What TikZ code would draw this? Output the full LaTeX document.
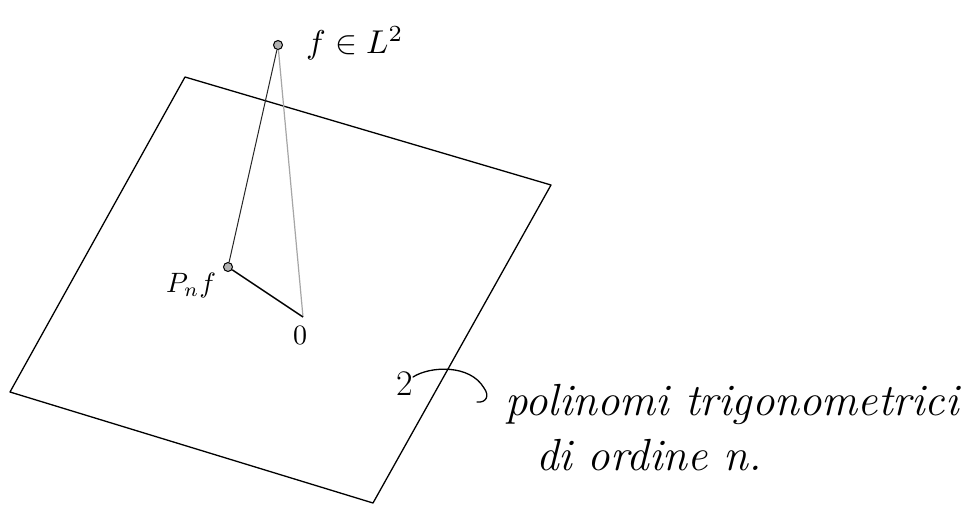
\documentclass[tikz,border=0pt]{standalone}
\begin{document}
\begin{tikzpicture}[x=1pt,y=-1pt,
  edge/.style={draw=black,line width=1.3pt,line join=round},
  ptmark/.style={circle,draw=black,fill=gray!60,line width=1pt,inner sep=0pt,minimum size=9pt},
  leftline/.style={draw=black!85,line width=1pt},
  grayline/.style={draw=gray!70,line width=1.2pt},
  darkline/.style={draw=black,line width=1.5pt},
  lbl/.style={inner sep=0pt,text=black},
  handarc/.style={draw=black,line width=1.3pt,line cap=round}]
\fill[white] (0,0) rectangle (966,504);
\useasboundingbox (0,0) rectangle (966,504);
% plane
\coordinate (TL) at (185,77);
\coordinate (R) at (551,185);
\coordinate (B) at (373,503);
\coordinate (L) at (10,392);
\draw[edge] (TL) -- (R) -- (B) -- (L) -- cycle;
% points
\node[ptmark] (f) at (278,45) {};
\node[ptmark] (pnf) at (228,267) {};
\coordinate (o) at (303,317);
\draw[leftline] (f) -- (pnf);
\draw[grayline] (f) -- (o);
\draw[darkline] (pnf) -- (o);
% labels
\node[lbl,anchor=base west] (flab) at (306,53) {\scalebox{3.3}{$f\in L^2$}};
\node[lbl,anchor=base west] (pnflab) at (166,292) {\scalebox{2.8}{$P_n f$}};
\node[lbl] (zero) at (300,335) {\scalebox{2.8}{$0$}};
\node[lbl] (two) at (405,384) {\fontsize{36}{40}\selectfont 2};
\coordinate (arcA) at (413,377);
\coordinate (arcB) at (484,388);
\coordinate (arcC) at (477,402);
\draw[handarc] (arcA) .. controls (430,366) and (470,364) .. (arcB) .. controls (490,396) and (486,403) .. (arcC);
\node[lbl,anchor=base west] (poly) at (505,415) {\fontsize{45}{50}\selectfont\itshape polinomi trigonometrici};
\node[lbl,anchor=base west] (ord) at (536,470) {\fontsize{45}{50}\selectfont\itshape di ordine n.};
\end{tikzpicture}
\end{document}
